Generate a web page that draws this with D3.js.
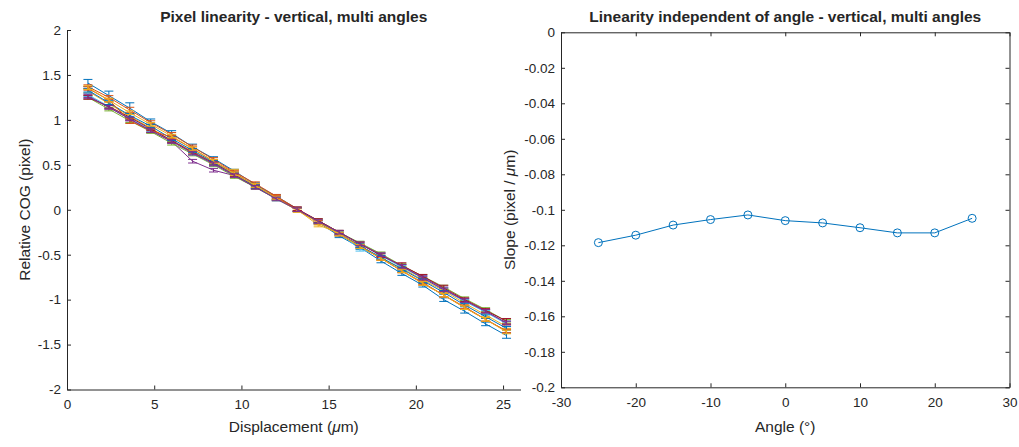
<!DOCTYPE html>
<html>
<head>
<meta charset="utf-8">
<script src="https://cdn.jsdelivr.net/npm/d3@7"></script>
<style>
  html, body { margin: 0; padding: 0; background: #fff; }
  svg { display: block; }
  text { font-family: "Liberation Sans", Arial, Helvetica, sans-serif; fill: #262626; }
</style>
</head>
<body>
<svg id="chart" width="1019" height="447"></svg>
<script>
// ---------- DATA ----------
const displacement = [1.2, 2.4, 3.6, 4.8, 6.0, 7.2, 8.4, 9.6, 10.8, 12.0, 13.2, 14.4, 15.6, 16.8, 18.0, 19.2, 20.4, 21.6, 22.8, 24.0, 25.2];
const angles = [-25, -20, -15, -10, -5, 0, 5, 10, 15, 20, 25];
const slopes = [-0.1185, -0.1143, -0.1086, -0.1055, -0.1029, -0.1061, -0.1074, -0.1101, -0.1130, -0.1130, -0.1048];

// Relative COG (pixel) per angle
const cogM25 = [1.41, 1.27, 1.13, 0.98, 0.85, 0.70, 0.57, 0.43, 0.28, 0.15, 0.01, -0.14, -0.29, -0.42, -0.57, -0.71, -0.84, -1.00, -1.13, -1.27, -1.40];
const cogM20 = [1.37, 1.25, 1.11, 0.97, 0.84, 0.70, 0.56, 0.42, 0.29, 0.15, 0.01, -0.13, -0.27, -0.40, -0.54, -0.68, -0.82, -0.95, -1.09, -1.22, -1.35];
const cogM15 = [1.32, 1.18, 1.04, 0.91, 0.77, 0.65, 0.52, 0.41, 0.26, 0.13, 0.00, -0.17, -0.26, -0.40, -0.54, -0.65, -0.78, -0.90, -1.04, -1.17, -1.30];
const cogM10 = [1.27, 1.14, 1.01, 0.88, 0.76, 0.54, 0.44, 0.38, 0.25, 0.13, 0.00, -0.12, -0.25, -0.38, -0.50, -0.63, -0.75, -0.88, -1.01, -1.13, -1.26];
const cogM5  = [1.25, 1.12, 0.99, 0.87, 0.74, 0.62, 0.50, 0.37, 0.25, 0.12, 0.00, -0.12, -0.25, -0.37, -0.49, -0.62, -0.74, -0.86, -0.99, -1.11, -1.24];
const cog0   = [1.28, 1.15, 1.02, 0.89, 0.77, 0.63, 0.51, 0.38, 0.26, 0.12, 0.00, -0.13, -0.26, -0.44, -0.51, -0.64, -0.76, -0.89, -1.02, -1.14, -1.27];
const cogP5  = [1.25, 1.15, 1.03, 0.90, 0.77, 0.64, 0.52, 0.39, 0.26, 0.13, 0.01, -0.12, -0.25, -0.38, -0.51, -0.62, -0.74, -0.87, -1.00, -1.12, -1.24];
const cogP10 = [1.33, 1.19, 1.05, 0.93, 0.79, 0.66, 0.53, 0.40, 0.26, 0.13, 0.00, -0.13, -0.27, -0.40, -0.53, -0.66, -0.79, -0.92, -1.06, -1.19, -1.32];
const cogP15 = [1.35, 1.22, 0.99, 0.88, 0.81, 0.68, 0.54, 0.41, 0.27, 0.14, 0.00, -0.14, -0.27, -0.41, -0.54, -0.68, -0.81, -0.95, -1.08, -1.22, -1.35];
const cogP20 = [1.36, 1.22, 1.08, 0.95, 0.82, 0.68, 0.54, 0.40, 0.27, 0.13, -0.01, -0.14, -0.27, -0.41, -0.54, -0.68, -0.82, -0.95, -1.09, -1.22, -1.36];
const cogP25 = [1.26, 1.14, 1.01, 0.88, 0.76, 0.63, 0.51, 0.38, 0.25, 0.12, 0.00, -0.13, -0.25, -0.38, -0.50, -0.63, -0.76, -0.89, -1.01, -1.13, -1.26];

// error bar half-lengths per angle
const errM25 = [0.04, 0.05, 0.06, 0.03, 0.03, 0.03, 0.02, 0.02, 0.02, 0.02, 0.02, 0.02, 0.02, 0.02, 0.02, 0.02, 0.02, 0.02, 0.02, 0.02, 0.03];
const errM20 = [0.02, 0.02, 0.03, 0.02, 0.02, 0.02, 0.02, 0.02, 0.02, 0.02, 0.02, 0.02, 0.02, 0.02, 0.02, 0.02, 0.02, 0.02, 0.02, 0.02, 0.02];
const errM15 = [0.02, 0.02, 0.02, 0.02, 0.02, 0.02, 0.02, 0.04, 0.02, 0.02, 0.02, 0.02, 0.02, 0.02, 0.02, 0.02, 0.02, 0.02, 0.02, 0.02, 0.02];
const errM10 = [0.02, 0.02, 0.02, 0.02, 0.02, 0.02, 0.02, 0.02, 0.02, 0.02, 0.02, 0.02, 0.02, 0.02, 0.02, 0.02, 0.02, 0.02, 0.02, 0.02, 0.02];
const errM5  = [0.02, 0.02, 0.02, 0.02, 0.02, 0.02, 0.02, 0.02, 0.02, 0.02, 0.02, 0.02, 0.02, 0.02, 0.02, 0.02, 0.02, 0.02, 0.02, 0.02, 0.02];
const err0   = [0.02, 0.02, 0.02, 0.02, 0.02, 0.02, 0.02, 0.02, 0.02, 0.02, 0.02, 0.02, 0.02, 0.02, 0.02, 0.02, 0.02, 0.02, 0.02, 0.02, 0.03];
const errP5  = [0.02, 0.02, 0.03, 0.02, 0.02, 0.02, 0.02, 0.02, 0.02, 0.02, 0.02, 0.02, 0.02, 0.02, 0.02, 0.03, 0.02, 0.03, 0.02, 0.02, 0.03];
const errP10 = [0.02, 0.02, 0.02, 0.02, 0.02, 0.02, 0.02, 0.02, 0.02, 0.02, 0.02, 0.02, 0.02, 0.02, 0.02, 0.02, 0.02, 0.02, 0.02, 0.02, 0.02];
const errP15 = [0.02, 0.02, 0.03, 0.02, 0.02, 0.02, 0.02, 0.02, 0.02, 0.02, 0.02, 0.02, 0.02, 0.02, 0.02, 0.02, 0.02, 0.02, 0.02, 0.02, 0.02];
const errP20 = [0.02, 0.02, 0.02, 0.02, 0.02, 0.02, 0.02, 0.02, 0.02, 0.02, 0.02, 0.03, 0.02, 0.02, 0.02, 0.02, 0.02, 0.02, 0.02, 0.02, 0.02];
const errP25 = [0.02, 0.02, 0.02, 0.02, 0.02, 0.02, 0.02, 0.02, 0.02, 0.02, 0.02, 0.02, 0.02, 0.02, 0.02, 0.02, 0.02, 0.02, 0.02, 0.02, 0.02];

const leftYTicks = [-2, -1.5, -1, -0.5, 0, 0.5, 1, 1.5, 2];
const leftXTicks = [0, 5, 10, 15, 20, 25];
const rightXTicks = [-30, -20, -10, 0, 10, 20, 30];
const rightYTicks = [-0.2, -0.18, -0.16, -0.14, -0.12, -0.1, -0.08, -0.06, -0.04, -0.02, 0];

const cogSeries = [cogM25, cogM20, cogM15, cogM10, cogM5, cog0, cogP5, cogP10, cogP15, cogP20, cogP25];
const errSeries = [errM25, errM20, errM15, errM10, errM5, err0, errP5, errP10, errP15, errP20, errP25];
const palette = ["#0072BD", "#D95319", "#EDB120", "#7E2F8E", "#77AC30", "#4DBEEE", "#A2142F"];

// ---------- DRAW ----------
const svg = d3.select("#chart");
const axisColor = "#262626";
const tickFont = 13.5;
const labelFont = "15.5px";
const titleFont = "15.5px";

function styleAxis(g) {
  g.selectAll("path.domain").attr("stroke", axisColor).attr("stroke-width", 1);
  g.selectAll(".tick line").attr("stroke", axisColor);
  g.selectAll(".tick text").attr("fill", axisColor).style("font-size", tickFont + "px")
    .style("font-family", '"Liberation Sans", Arial, sans-serif');
}
const fmt = d => String(d);

// ----- Left panel -----
const L = { left: 67, right: 520.5, top: 30, bottom: 389.5 };
const xL = d3.scaleLinear().domain([0, 26]).range([L.left, L.right]);
const yL = d3.scaleLinear().domain([-2, 2]).range([L.bottom, L.top]);

const gL = svg.append("g");
const line = d3.line().x((d, i) => xL(displacement[i])).y(d => yL(d));

cogSeries.forEach((s, si) => {
  const col = palette[si % palette.length];
  const g = gL.append("g");
  g.append("path").datum(s).attr("d", line).attr("fill", "none")
    .attr("stroke", col).attr("stroke-width", 1);
  const err = errSeries[si];
  s.forEach((v, i) => {
    const x = xL(displacement[i]);
    const y1 = yL(v - err[i]), y2 = yL(v + err[i]);
    g.append("line").attr("x1", x).attr("x2", x).attr("y1", y1).attr("y2", y2)
      .attr("stroke", col).attr("stroke-width", 1);
    [y1, y2].forEach(yy => g.append("line").attr("x1", x - 4.5).attr("x2", x + 4.5)
      .attr("y1", yy).attr("y2", yy).attr("stroke", col).attr("stroke-width", 1));
  });
});

const axLx = gL.append("g").attr("transform", `translate(0,${L.bottom})`)
  .call(d3.axisBottom(xL).tickValues(leftXTicks).tickSizeInner(-4).tickSizeOuter(0).tickPadding(10).tickFormat(fmt));
styleAxis(axLx);
const axLy = gL.append("g").attr("transform", `translate(${L.left},0)`)
  .call(d3.axisLeft(yL).tickValues(leftYTicks).tickSizeInner(-4).tickSizeOuter(0).tickPadding(6).tickFormat(fmt));
styleAxis(axLy);

gL.append("text").attr("x", (L.left + L.right) / 2).attr("y", 22).attr("text-anchor", "middle")
  .style("font-size", titleFont).style("font-weight", "bold").attr("fill", "#000")
  .text("Pixel linearity - vertical, multi angles");
const xlabL = gL.append("text").attr("x", (L.left + L.right) / 2).attr("y", 432).attr("text-anchor", "middle")
  .style("font-size", labelFont);
xlabL.append("tspan").text("Displacement (");
xlabL.append("tspan").style("font-style", "italic").text("μ");
xlabL.append("tspan").text("m)");
gL.append("text").attr("transform", `translate(30,${(L.top + L.bottom) / 2}) rotate(-90)`)
  .attr("text-anchor", "middle").style("font-size", labelFont).text("Relative COG (pixel)");

// ----- Right panel -----
const R = { left: 561, right: 1009.5, top: 32.3, bottom: 387.3 };
const xR = d3.scaleLinear().domain([-30, 30]).range([R.left, R.right]);
const yR = d3.scaleLinear().domain([-0.2, 0]).range([R.bottom, R.top]);
const gR = svg.append("g");

const axRx = gR.append("g").attr("transform", `translate(0,${R.bottom})`)
  .call(d3.axisBottom(xR).tickValues(rightXTicks).tickSizeInner(-4).tickSizeOuter(0).tickPadding(10).tickFormat(fmt));
styleAxis(axRx);
const axRy = gR.append("g").attr("transform", `translate(${R.left},0)`)
  .call(d3.axisLeft(yR).tickValues(rightYTicks).tickSizeInner(-4).tickSizeOuter(0).tickPadding(6).tickFormat(fmt));
styleAxis(axRy);
const axRt = gR.append("g").attr("transform", `translate(0,${R.top})`)
  .call(d3.axisTop(xR).tickValues(rightXTicks).tickSizeInner(-4).tickSizeOuter(0).tickFormat(""));
styleAxis(axRt);
const axRr = gR.append("g").attr("transform", `translate(${R.right},0)`)
  .call(d3.axisRight(yR).tickValues(rightYTicks).tickSizeInner(-4).tickSizeOuter(0).tickFormat(""));
styleAxis(axRr);

const lineR = d3.line().x((d, i) => xR(angles[i])).y(d => yR(d));
gR.append("path").datum(slopes).attr("d", lineR).attr("fill", "none")
  .attr("stroke", "#0072BD").attr("stroke-width", 1);
gR.selectAll("circle.pt").data(slopes).join("circle").attr("class", "pt")
  .attr("cx", (d, i) => xR(angles[i])).attr("cy", d => yR(d)).attr("r", 4)
  .attr("fill", "none").attr("stroke", "#0072BD").attr("stroke-width", 1);

gR.append("text").attr("x", (R.left + R.right) / 2).attr("y", 22).attr("text-anchor", "middle")
  .style("font-size", titleFont).style("font-weight", "bold").attr("fill", "#000")
  .text("Linearity independent of angle - vertical, multi angles");
gR.append("text").attr("x", (R.left + R.right) / 2).attr("y", 432).attr("text-anchor", "middle")
  .style("font-size", labelFont).text("Angle (°)");
const ylabR = gR.append("text").attr("transform", `translate(515,${(R.top + R.bottom) / 2}) rotate(-90)`)
  .attr("text-anchor", "middle").style("font-size", labelFont);
ylabR.append("tspan").text("Slope (pixel / ");
ylabR.append("tspan").style("font-style", "italic").text("μ");
ylabR.append("tspan").text("m)");
</script>
</body>
</html>
